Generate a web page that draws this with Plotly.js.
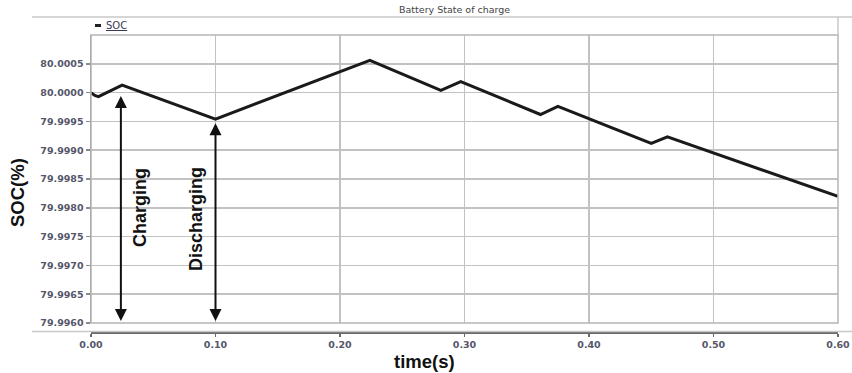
<!DOCTYPE html>
<html><head><meta charset="utf-8">
<script src="https://cdn.plot.ly/plotly-3.0.1.min.js"></script>
<style>html,body{margin:0;padding:0;background:#fff;}#chart{width:852px;height:373px;}</style>
</head><body><div id="chart"></div>
<script>
// Data
const timeS = [0, 0.003, 0.006, 0.025, 0.100, 0.224, 0.281, 0.297, 0.361, 0.375, 0.450, 0.463, 0.600];
const socPct = [80.00000, 79.99995, 79.99993, 80.00013, 79.99954, 80.00056, 80.00004, 80.00019, 79.99962, 79.99976, 79.99912, 79.99923, 79.99820];
const yTicks = [79.9960, 79.9965, 79.9970, 79.9975, 79.9980, 79.9985, 79.9990, 79.9995, 80.0000, 80.0005];
const xTicks = [0, 0.1, 0.2, 0.3, 0.4, 0.5, 0.6];
const chargeArrow = {x: 0.024, top: 79.99994, bottom: 79.9960};
const dischargeArrow = {x: 0.100, top: 79.99947, bottom: 79.9960};

const W = 852, H = 373;
const mL = 91, mR = 14, mT = 35, mB = 40;
const pw = W - mL - mR, ph = H - mT - mB;
const px = v => (v - mL) / pw;        // pixel x -> paper x
const py = v => (H - mB - v) / ph;    // pixel y -> paper y
const yDom0 = py(323);

const tickFont = {family: 'DejaVu Sans', size: 9.5, color: '#55566a', weight: 'bold'};
const grid = '#c2c2c2';

const trace = {
  x: timeS, y: socPct, type: 'scatter', mode: 'lines', name: 'SOC',
  line: {color: '#1a1a1a', width: 3}, showlegend: false
};

const layout = {
  width: W, height: H,
  margin: {l: mL, r: mR, t: mT, b: mB, pad: 0},
  paper_bgcolor: '#fff', plot_bgcolor: '#fff',
  xaxis: {
    range: [0, 0.6], tickvals: xTicks, tickformat: '.2f',
    anchor: 'free', position: 0,
    showgrid: true, gridcolor: grid, gridwidth: 1.5,
    showline: true, linecolor: '#6a6a6a', linewidth: 2,
    ticks: 'outside', ticklen: 3, tickcolor: '#6a6a6a', tickwidth: 1.5,
    tickfont: tickFont, zeroline: false, fixedrange: true
  },
  yaxis: {
    domain: [yDom0, 1],
    range: [79.9960, 80.0010], tickvals: yTicks, tickformat: '.4f',
    showgrid: true, gridcolor: grid, gridwidth: 1.5,
    showline: true, linecolor: '#8a8a8a', linewidth: 1.5,
    ticks: 'outside', ticklen: 4, tickcolor: '#8a8a8a', tickwidth: 1.5,
    tickfont: tickFont, zeroline: false, fixedrange: true
  },
  shapes: [
    // plot box
    {type: 'rect', xref: 'paper', yref: 'paper', x0: 0, x1: 1, y0: yDom0, y1: 1,
     line: {color: '#b5b5b5', width: 1.5}},
    // outer frame lines
    {type: 'line', xref: 'paper', yref: 'paper', x0: px(32), x1: px(852), y0: py(17), y1: py(17),
     line: {color: '#c8c8c8', width: 1.5}},
    {type: 'line', xref: 'paper', yref: 'paper', x0: 1, x1: 1, y0: 1, y1: py(17),
     line: {color: '#c8c8c8', width: 1.5}},
    {type: 'line', xref: 'paper', yref: 'paper', x0: px(32), x1: px(852), y0: py(331.5), y1: py(331.5),
     line: {color: '#c8c8c8', width: 1.5}},
    // legend marker
    {type: 'rect', xref: 'paper', yref: 'paper', x0: px(95), x1: px(101), y0: py(27), y1: py(24),
     fillcolor: '#222', line: {width: 0}}
  ],
  annotations: [
    {text: 'Battery State of charge', xref: 'paper', yref: 'paper', x: px(454), y: py(9),
     showarrow: false, xanchor: 'center', yanchor: 'middle',
     font: {family: 'DejaVu Sans', size: 9.5, color: '#444'}},
    {text: '<u>SOC</u>', xref: 'paper', yref: 'paper', x: px(104), y: py(26),
     showarrow: false, xanchor: 'left', yanchor: 'middle',
     font: {family: 'DejaVu Sans', size: 10, color: '#3a3a55'}},
    {text: 'SOC(%)', xref: 'paper', yref: 'paper', x: px(17), y: py(193), textangle: -90,
     showarrow: false, xanchor: 'center', yanchor: 'middle',
     font: {family: 'Liberation Sans', size: 18.5, color: '#111', weight: 'bold'}},
    {text: 'time(s)', xref: 'paper', yref: 'paper', x: px(424), y: py(361),
     showarrow: false, xanchor: 'center', yanchor: 'middle',
     font: {family: 'Liberation Sans', size: 18.5, color: '#111', weight: 'bold'}},
    {text: 'Charging', xref: 'paper', yref: 'paper', x: px(140), y: py(208), textangle: -90,
     showarrow: false, xanchor: 'center', yanchor: 'middle',
     font: {family: 'Liberation Sans', size: 18, color: '#111', weight: 'bold'}},
    {text: 'Discharging', xref: 'paper', yref: 'paper', x: px(196), y: py(219), textangle: -90,
     showarrow: false, xanchor: 'center', yanchor: 'middle',
     font: {family: 'Liberation Sans', size: 18, color: '#111', weight: 'bold'}},
    {text: ' ', xref: 'x', yref: 'y', axref: 'x', ayref: 'y',
     x: chargeArrow.x, y: chargeArrow.top, ax: chargeArrow.x, ay: chargeArrow.bottom,
     showarrow: true, arrowside: 'end+start', arrowhead: 2, startarrowhead: 2,
     arrowsize: 1.2, startarrowsize: 1.2, arrowwidth: 2, arrowcolor: '#111',
     standoff: 0, startstandoff: 0, font: {size: 1}},
    {text: ' ', xref: 'x', yref: 'y', axref: 'x', ayref: 'y',
     x: dischargeArrow.x, y: dischargeArrow.top, ax: dischargeArrow.x, ay: dischargeArrow.bottom,
     showarrow: true, arrowside: 'end+start', arrowhead: 2, startarrowhead: 2,
     arrowsize: 1.2, startarrowsize: 1.2, arrowwidth: 2, arrowcolor: '#111',
     standoff: 0, startstandoff: 0, font: {size: 1}}
  ]
};

Plotly.newPlot('chart', [trace], layout, {displayModeBar: false, staticPlot: true});
</script></body></html>
